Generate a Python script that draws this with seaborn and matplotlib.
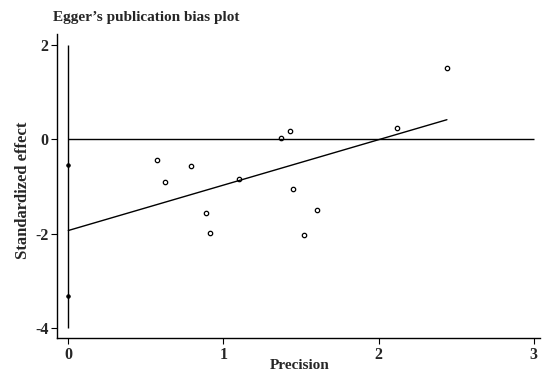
import matplotlib
matplotlib.use('Agg')
import matplotlib.pyplot as plt
import numpy as np
import pandas as pd
import seaborn as sns

# precision (1/SE) and standardized effect for each study
precision = [0.57, 0.62, 0.79, 0.89, 0.91, 1.10, 1.37, 1.43, 1.45, 1.52, 1.60, 2.12, 2.44]
std_effect = [-0.43, -0.91, -0.57, -1.55, -1.98, -0.85, 0.02, 0.17, -1.06, -2.02, -1.49, 0.23, 1.51]
# confidence limits of the Egger intercept, shown on the y axis
intercept_ci = [-0.55, -3.31]

x_ticks = [0, 1, 2, 3]
y_ticks = [-4, -2, 0, 2]

df = pd.DataFrame({'Precision': precision, 'Standardized effect': std_effect})

sns.set_style('ticks')
plt.rcParams['font.family'] = ['Liberation Serif', 'DejaVu Serif']
plt.rcParams['font.weight'] = 'bold'
plt.rcParams['axes.unicode_minus'] = False

fig = plt.figure(figsize=(5.43, 3.74), dpi=100)
ax = fig.add_axes([0.1055, 0.0955, 0.889, 0.8125])

# regression of standardized effect on precision
slope, intercept = np.polyfit(precision, std_effect, 1)
fit_x = np.array([0, max(precision)])
fit = pd.DataFrame({'x': fit_x, 'y': intercept + slope * fit_x})

ax.vlines(0, min(y_ticks), max(y_ticks), color='black', lw=1.0)
ax.hlines(0, min(x_ticks), max(x_ticks), color='black', lw=1.0)
sns.lineplot(data=fit, x='x', y='y', color='black', lw=1.0, ax=ax)

sns.scatterplot(data=df, x='Precision', y='Standardized effect', marker='o',
                s=10, facecolor='white', edgecolor='black', linewidth=0.9, ax=ax)
sns.scatterplot(x=[0] * len(intercept_ci), y=intercept_ci, marker='o', s=7,
                color='black', edgecolor='black', linewidth=0.5, ax=ax)

ax.set_xlim(-0.071, 3.04)
ax.set_ylim(-4.21, 2.22)
ax.set_xticks(x_ticks)
ax.set_yticks(y_ticks)
ax.tick_params(labelsize=11.5, length=4, width=0.8, pad=2.5, color='black')
for lbl in ax.get_xticklabels() + ax.get_yticklabels():
    lbl.set_fontweight('bold')
ax.set_xlabel('')
ax.set_ylabel('')
sns.despine(ax=ax)
for sp in ['left', 'bottom']:
    ax.spines[sp].set_linewidth(1.0)
    ax.spines[sp].set_color('black')

fig.text(0.098, 0.952, 'Egger\u2019s publication bias plot', fontsize=11,
         fontweight='bold', ha='left', va='center')
fig.text(0.042, 0.49, 'Standardized effect', fontsize=12, fontweight='bold',
         rotation=90, ha='center', va='center')
fig.text(0.551, 0.022, 'Precision', fontsize=11, fontweight='bold',
         ha='center', va='center')

fig.savefig('out.png', dpi=100)
